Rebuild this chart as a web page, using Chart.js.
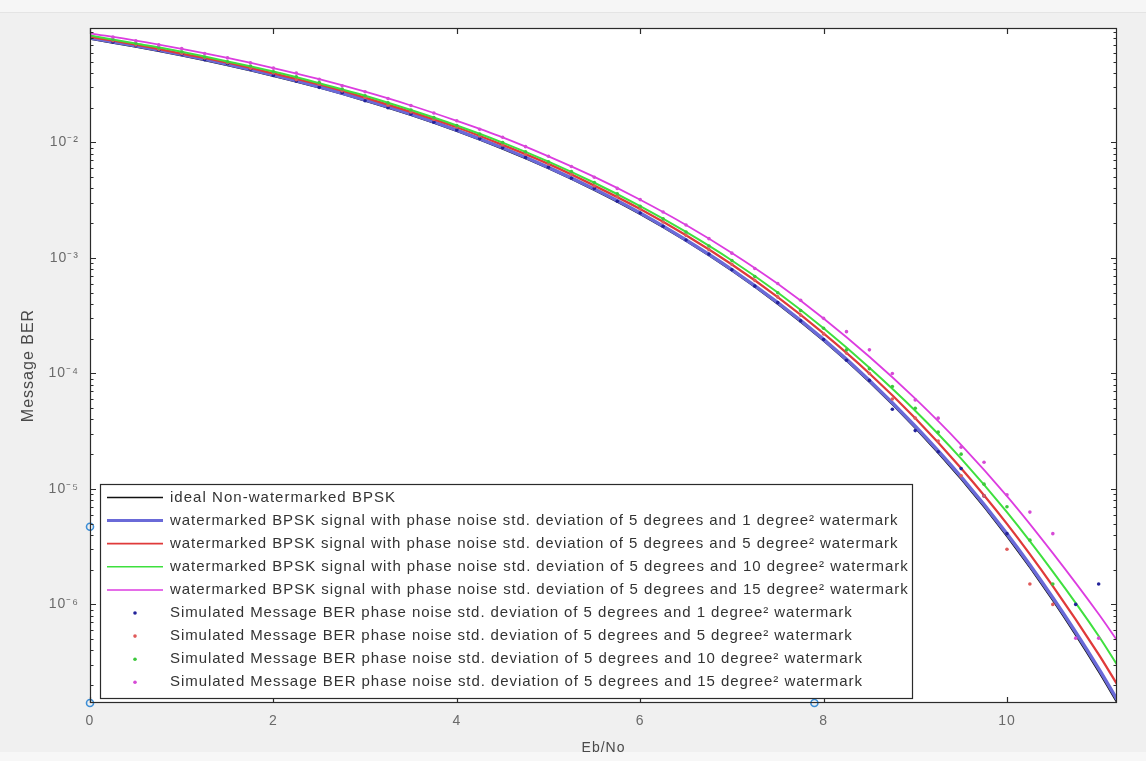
<!DOCTYPE html>
<html><head><meta charset="utf-8">
<script src="https://cdn.jsdelivr.net/npm/chart.js@4.4.1/dist/chart.umd.min.js"></script>
<style>html,body{margin:0;padding:0;background:#f0f0f0;overflow:hidden}canvas{display:block}</style>
</head><body>
<canvas id="c" width="1146" height="761"></canvas>
<script>
// ---- data ----
const xLine = [0,0.5,1,1.5,2,2.5,3,3.5,4,4.5,5,5.5,6,6.5,7,7.5,8,8.5,9,9.5,10,10.5,11,11.2];
const berIdeal = [0.0786,0.0671,0.0563,0.0464,0.0375,0.0297,0.0229,0.0172,0.0125,0.00879,0.00595,0.00386,0.00239,0.00140,7.73e-4,3.99e-4,1.91e-4,8.40e-5,3.36e-5,1.21e-5,3.87e-6,1.08e-6,2.61e-7,1.41e-7];
const berWm1 = [0.0805,0.0687,0.0576,0.0475,0.0384,0.0304,0.0234,0.0176,0.0128,0.0090,0.00609,0.00395,0.00245,0.00143,7.93e-4,4.10e-4,1.97e-4,8.7e-5,3.49e-5,1.27e-5,4.08e-6,1.14e-6,2.78e-7,1.50e-7];
const berWm5 = [0.0823,0.0703,0.0589,0.0491,0.0397,0.0318,0.0245,0.0184,0.01355,0.00953,0.00652,0.00423,0.00265,0.00157,8.77e-4,4.58e-4,2.22e-4,9.99e-5,4.09e-5,1.51e-5,4.98e-6,1.44e-6,3.69e-7,2.04e-7];
const berWm10 = [0.0843,0.0719,0.0610,0.0503,0.0411,0.0326,0.0254,0.0191,0.01403,0.00998,0.00683,0.00448,0.00281,0.00168,9.51e-4,5.02e-4,2.46e-4,1.12e-4,4.75e-5,1.83e-5,6.28e-6,1.92e-6,5.33e-7,3.01e-7];
const berWm15 = [0.0882,0.0762,0.0646,0.0539,0.0441,0.0353,0.0275,0.0209,0.01538,0.01107,0.00758,0.00503,0.00319,0.00193,1.105e-3,5.97e-4,2.99e-4,1.394e-4,6.04e-5,2.41e-5,8.67e-6,2.78e-6,8.25e-7,4.89e-7];

const xSim = [0,0.25,0.5,0.75,1,1.25,1.5,1.75,2,2.25,2.5,2.75,3,3.25,3.5,3.75,4,4.25,4.5,4.75,5,5.25,5.5,5.75,6,6.25,6.5,6.75,7,7.25,7.5,7.75,8,8.25,8.5,8.75,9,9.25,9.5,9.75,10,10.25,10.5,10.75,11];
const simWm1 = [0.080,0.074,0.069,0.063,0.058,0.052,0.048,0.043,0.038,0.034, 0.030,0.027,0.023,0.020,0.0176,0.0150,0.0128,0.0108,0.0090,0.0074, 0.0061,0.0049,0.0040,0.0031,0.00245,0.00188,0.00143,0.00108,7.9e-4,5.7e-4, 4.1e-4,2.85e-4,1.97e-4,1.30e-4,8.7e-5,4.9e-5,3.2e-5,2.1e-5,1.5e-5,8.7e-6, 4.1e-6,null,null,1.0e-6,1.5e-6];
const simWm5 = [0.082,0.076,0.070,0.064,0.059,0.054,0.049,0.044,0.040,0.035, 0.032,0.028,0.0245,0.021,0.0184,0.0158,0.0136,0.0114,0.0095,0.0079, 0.0065,0.0053,0.0042,0.0034,0.00265,0.00205,0.00157,0.00118,8.8e-4,6.4e-4, 4.6e-4,3.2e-4,2.2e-4,1.5e-4,1.0e-4,6.0e-5,4.1e-5,2.6e-5,1.3e-5,8.7e-6, 3.0e-6,1.5e-6,1.0e-6,null,null];
const simWm10 = [0.084,0.078,0.072,0.066,0.061,0.055,0.050,0.046,0.041,0.037, 0.033,0.029,0.0254,0.022,0.0191,0.0164,0.0140,0.0118,0.0100,0.0083, 0.0068,0.0056,0.0045,0.0036,0.0028,0.00218,0.00168,0.00127,9.5e-4,6.9e-4, 5.0e-4,3.5e-4,2.46e-4,1.6e-4,1.1e-4,7.7e-5,5.0e-5,3.1e-5,2.0e-5,1.1e-5, 7.0e-6,3.6e-6,1.5e-6,null,null];
const simWm15 = [0.088,0.082,0.076,0.070,0.065,0.059,0.054,0.049,0.044,0.040, 0.0353,0.031,0.0275,0.024,0.0209,0.0180,0.0154,0.0130,0.0111,0.0092, 0.0076,0.0062,0.0050,0.0040,0.0032,0.0025,0.00193,0.00147,1.1e-3,8.1e-4, 6.0e-4,4.3e-4,3.0e-4,2.3e-4,1.6e-4,1.0e-4,5.9e-5,4.1e-5,2.3e-5,1.7e-5, 8.9e-6,6.3e-6,4.1e-6,5.1e-7,5.1e-7];

const markerX = [0, 0, 7.9];
const markerY = [4.7e-6, 1.4e-7, 1.4e-7];

const xTicks = [0,2,4,6,8,10];
const yMajorTicks = [1e-6,1e-5,1e-4,1e-3,1e-2];
const yTickLabels = ['10\u207B\u2076','10\u207B\u2075','10\u207B\u2074','10\u207B\u00B3','10\u207B\u00B2'];

const seriesNames = [
  'ideal Non-watermarked BPSK',
  'watermarked BPSK signal with phase noise std. deviation of 5 degrees and 1 degree\u00B2 watermark',
  'watermarked BPSK signal with phase noise std. deviation of 5 degrees and 5 degree\u00B2 watermark',
  'watermarked BPSK signal with phase noise std. deviation of 5 degrees and 10 degree\u00B2 watermark',
  'watermarked BPSK signal with phase noise std. deviation of 5 degrees and 15 degree\u00B2 watermark',
  'Simulated Message BER phase noise std. deviation of 5 degrees and 1 degree\u00B2 watermark',
  'Simulated Message BER phase noise std. deviation of 5 degrees and 5 degree\u00B2 watermark',
  'Simulated Message BER phase noise std. deviation of 5 degrees and 10 degree\u00B2 watermark',
  'Simulated Message BER phase noise std. deviation of 5 degrees and 15 degree\u00B2 watermark'
];

// ---- styles ----
const FONT = '"Liberation Sans", Arial, Helvetica, sans-serif';
const lineStyles = [
  {color:'#111111', width:1.5},
  {color:'#6a6ad8', width:3.5},
  {color:'#e03a3a', width:2.3},
  {color:'#3ee03e', width:2},
  {color:'#dc3ce0', width:1.8}
];
const dotColors = ['#23239a','#e05a5a','#3cc83c','#d64ad6'];

const pts = (xs, ys) => xs.map((x,i)=>({x:x, y:ys[i]}));

const lineSeries = [berIdeal, berWm1, berWm5, berWm10, berWm15];
const simSeries = [simWm1, simWm5, simWm10, simWm15];

const datasets = [];
lineSeries.forEach((arr,i)=>{
  datasets.push({
    label: seriesNames[i], data: pts(xLine, arr), showLine: true,
    borderColor: lineStyles[i].color, borderWidth: lineStyles[i].width,
    pointRadius: 0, cubicInterpolationMode: 'monotone', order: 20 - i
  });
});
simSeries.forEach((arr,i)=>{
  datasets.push({
    label: seriesNames[5+i], data: pts(xSim, arr).filter(p=>p.y!==null), showLine: false,
    pointRadius: 1.8, pointBorderWidth: 0, backgroundColor: dotColors[i], borderColor: dotColors[i],
    order: 10 - i
  });
});
datasets.push({
  label: 'markers', data: pts(markerX, markerY), showLine:false, clip: false,
  pointRadius: 3.5, pointBorderWidth: 1.6, pointStyle: 'circle',
  borderColor: '#3d8ed6', backgroundColor: 'rgba(255,255,255,0)', order: 1
});

const legendTextEnd = [395, 898, 898, 908, 908, 852, 852, 862, 862];

const matlabPlugin = {
  id: 'matlab',
  beforeDraw(chart){
    const {ctx, chartArea:a, width, height} = chart;
    ctx.save();
    ctx.fillStyle = '#f0f0f0'; ctx.fillRect(0,0,width,height);
    ctx.fillStyle = '#f6f6f6'; ctx.fillRect(0,0,width,12);
    ctx.fillStyle = '#e4e4e4'; ctx.fillRect(0,12,width,1);
    ctx.fillStyle = '#f7f7f7'; ctx.fillRect(0,752,width,9);
    ctx.fillStyle = '#ffffff'; ctx.fillRect(a.left,a.top,a.right-a.left,a.bottom-a.top);
    ctx.restore();
    if ('letterSpacing' in ctx) ctx.letterSpacing = '1px';
  },
  beforeDatasetsDraw(chart){
    if ('letterSpacing' in chart.ctx) chart.ctx.letterSpacing = '0px';
  },
  afterDraw(chart){
    const {ctx, chartArea:a} = chart;
    const xs = chart.scales.x, ys = chart.scales.y;
    ctx.save();
    if ('letterSpacing' in ctx) ctx.letterSpacing = '0px';
    // frame
    ctx.strokeStyle = '#2b2b2b'; ctx.lineWidth = 1.2;
    ctx.strokeRect(a.left+0.5, a.top+0.5, a.right-a.left-1, a.bottom-a.top-1);
    // x ticks (inward, top & bottom)
    ctx.beginPath();
    xTicks.forEach(v=>{
      const p = Math.round(xs.getPixelForValue(v))+0.5;
      ctx.moveTo(p,a.bottom); ctx.lineTo(p,a.bottom-6);
      ctx.moveTo(p,a.top); ctx.lineTo(p,a.top+6);
    });
    // y ticks
    ys.ticks.forEach(t=>{
      const v = t.value;
      const major = yMajorTicks.some(m=>Math.abs(Math.log10(v/m))<1e-6);
      const len = major ? 6 : 3.5;
      const p = Math.round(ys.getPixelForValue(v))+0.5;
      if (p < a.top+1 || p > a.bottom-1) return;
      ctx.moveTo(a.left,p); ctx.lineTo(a.left+len,p);
      ctx.moveTo(a.right,p); ctx.lineTo(a.right-len,p);
    });
    ctx.stroke();

    // legend box
    const L = 100, T = 484, R = 912, B = 698;
    ctx.fillStyle = '#ffffff'; ctx.fillRect(L,T,R-L,B-T);
    ctx.strokeStyle = '#2b2b2b'; ctx.lineWidth = 1.2;
    ctx.strokeRect(L+0.5,T+0.5,R-L,B-T);
    const rowY0 = 497.5, rowH = 23.1, textX = 170;
    ctx.font = '15px ' + FONT;
    ctx.textBaseline = 'middle'; ctx.textAlign = 'left';
    seriesNames.forEach((name,i)=>{
      const y = rowY0 + i*rowH;
      if (i < 5){
        ctx.strokeStyle = lineStyles[i].color;
        ctx.lineWidth = Math.max(1.5, lineStyles[i].width - 0.5);
        ctx.beginPath(); ctx.moveTo(107,y); ctx.lineTo(163,y); ctx.stroke();
      } else {
        ctx.fillStyle = dotColors[i-5];
        ctx.beginPath(); ctx.arc(135,y,1.8,0,Math.PI*2); ctx.fill();
      }
      ctx.fillStyle = '#333333';
      if ('letterSpacing' in ctx) ctx.letterSpacing = '0px';
      const w = ctx.measureText(name).width;
      const target = legendTextEnd[i] - textX;
      if ('letterSpacing' in ctx){
        const sp = (target - w) / Math.max(1, name.length - 1);
        ctx.letterSpacing = sp.toFixed(2) + 'px';
        ctx.fillText(name, textX, y);
        ctx.letterSpacing = '0px';
      } else {
        ctx.fillText(name, textX, y);
      }
    });
    ctx.restore();
  }
};

new Chart(document.getElementById('c'), {
  type: 'scatter',
  data: { datasets },
  options: {
    responsive: false, animation: false, devicePixelRatio: 1,
    layout: { padding: { top: 28, right: 29, left: 0, bottom: 0 } },
    plugins: { legend: { display: false }, tooltip: { enabled: false } },
    scales: {
      x: {
        type: 'linear', min: 0, max: 11.2,
        afterBuildTicks: s => { s.ticks = xTicks.map(v=>({value:v})); },
        afterFit: s => { s.height = 58; },
        grid: { display: false, drawTicks: false }, border: { display: false },
        ticks: { color: '#6a6a6a', font: { family: FONT, size: 14 }, padding: 10, autoSkip: false, maxRotation: 0,
                 callback: v => String(v) },
        title: { display: true, text: 'Eb/No', color: '#4a4a4a', font: { family: FONT, size: 14 }, padding: { bottom: 4, top: 0 } }
      },
      y: {
        type: 'logarithmic', min: 1.4e-7, max: 0.098,
        afterBuildTicks: s => {
          const t = [];
          for (let e = -7; e <= -1; e++) for (let m = 1; m <= 9; m++) {
            const v = m * Math.pow(10, e);
            if (v >= 1.4e-7 && v <= 0.098) t.push({value: v});
          }
          s.ticks = t;
        },
        afterFit: s => { s.width = 90; },
        grid: { display: false, drawTicks: false }, border: { display: false },
        ticks: { color: '#6a6a6a', font: { family: FONT, size: 14 }, padding: 11, autoSkip: false,
                 callback: v => { const i = yMajorTicks.findIndex(m=>Math.abs(Math.log10(v/m))<1e-6); return i>=0 ? yTickLabels[i] : ''; } },
        title: { display: true, text: 'Message BER', color: '#4a4a4a', font: { family: FONT, size: 16 }, padding: { top: 19, bottom: 0 } }
      }
    }
  },
  plugins: [matlabPlugin]
});
</script>
</body></html>
